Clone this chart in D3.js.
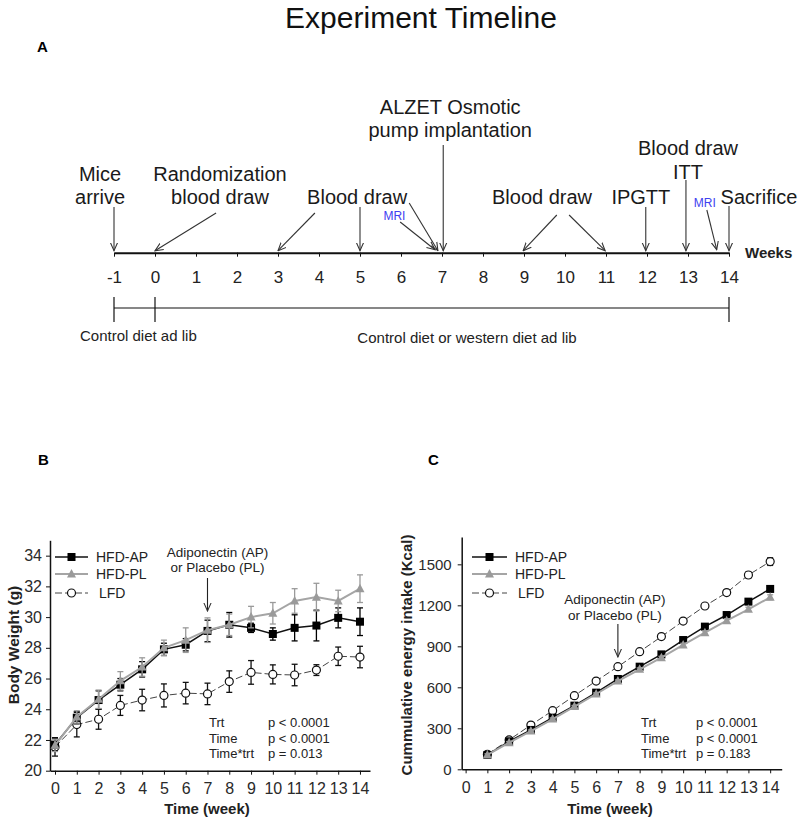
<!DOCTYPE html>
<html><head><meta charset="utf-8">
<script src="https://cdn.jsdelivr.net/npm/d3@7"></script>
<style>body{margin:0;background:#fff}svg{display:block}text{font-family:"Liberation Sans",Arial,sans-serif}</style>
</head><body>
<svg id="c" width="800" height="829"></svg>
<script>
// ---------- DATA ----------
const timelineWeeks = d3.range(-1, 15);
const weeks = d3.range(0, 15);
const weeksC = d3.range(1, 15);

const bwAP   = [21.7,23.45,24.6,25.6,26.6,27.9,28.2,29.1,29.5,29.3,28.9,29.3,29.45,29.95,29.7];
const bwAPe  = [0.4,0.4,0.6,0.4,0.5,0.4,0.4,0.7,0.8,0.3,0.4,0.85,1.0,0.65,0.9];
const bwPL   = [21.65,23.5,24.65,25.85,26.75,28.0,28.5,29.15,29.5,30.0,30.25,31.05,31.3,31.05,31.85];
const bwPLe  = [0.4,0.4,0.6,0.6,0.6,0.5,0.8,0.8,0.7,0.7,0.7,0.8,0.9,0.7,0.9];
const bwLFD  = [21.55,23.0,23.35,24.25,24.6,24.9,25.05,25.0,25.8,26.4,26.27,26.23,26.55,27.45,27.4];
const bwLFDe = [0.6,0.8,0.65,0.65,0.7,0.75,0.7,0.7,0.7,0.77,0.62,0.7,0.35,0.6,0.7];

const eiAP  = [105,205,288,378,466,561,661,751,841,946,1044,1129,1227,1320];
const eiAPe = [8,8,8,8,8,8,8,10,10,12,12,14,15,18];
const eiPL  = [105,195,280,368,459,551,646,732,817,910,1000,1088,1171,1259];
const eiPLe = [8,8,8,8,8,8,8,10,10,12,12,14,15,18];
const eiLFD = [110,215,324,429,539,646,751,861,971,1085,1195,1293,1422,1520];
const eiLFDe= [8,8,10,10,10,12,12,14,14,16,16,18,22,28];

const bTicksY = [20,22,24,26,28,30,32,34];
const cTicksY = [0,300,600,900,1200,1500];
const seriesNames = ["HFD-AP","HFD-PL","LFD"];
const statsLabels = ["Trt","Time","Time*trt"];
const statsB = ["p < 0.0001","p < 0.0001","p = 0.013"];
const statsC = ["p < 0.0001","p < 0.0001","p = 0.183"];

// timeline events: text lines, text anchor week, text y, arrows [fromWeek, fromY, toWeek]
const events = [
  {lines:["Mice","arrive"], w:-1.34, y:[174,197], arrows:[[-1,207,-1]]},
  {lines:["Randomization","blood draw"], w:1.585, y:[174,197], arrows:[[1.49,213,0]]},
  {lines:["Blood draw"], w:4.93, y:[197], arrows:[[3.9,213,3],[5,207,5],[6.2,203,6.9]]},
  {lines:["ALZET Osmotic","pump implantation"], w:7.2, y:[107,130], arrows:[[7.03,145,7.03]]},
  {lines:["Blood draw"], w:9.44, y:[197], arrows:[[9.8,215,8.98],[10.1,215,10.98]]},
  {lines:["IPGTT"], w:11.85, y:[197], arrows:[[11.97,207,11.97]]},
  {lines:["Blood draw","ITT"], w:13.0, y:[148,172], arrows:[[12.95,180,12.95]]},
  {lines:["Sacrifice"], w:14.73, y:[197], arrows:[[14,206,14]]}
];
const mriEvents = [
  {w:5.84, y:216, arrow:[5.98,222,6.83]},
  {w:13.41, y:203, arrow:[13.46,210,13.7]}
];

// ---------- DRAW ----------
const svg = d3.select("#c");
const fmt = d => String(d);
const defs = svg.append("defs");
defs.append("marker").attr("id","ah").attr("viewBox","0 0 10 10")
  .attr("refX",9).attr("refY",5).attr("markerWidth",9).attr("markerHeight",9)
  .attr("markerUnits","userSpaceOnUse").attr("orient","auto")
  .append("path").attr("d","M0,1 L9,5 L0,9").attr("fill","none").attr("stroke","#333").attr("stroke-width",1.2);

svg.append("text").attr("x",421).attr("y",28).attr("text-anchor","middle")
  .attr("font-size",30).attr("fill","#111").text("Experiment Timeline");
svg.append("text").attr("x",37).attr("y",52).attr("font-size",15).attr("font-weight","bold").text("A");

// timeline
const xT = d3.scaleLinear().domain([-1,14]).range([114,729]);
const axisY = 252.7;
const gT = svg.append("g").attr("transform",`translate(0,${axisY})`)
  .call(d3.axisBottom(xT).tickValues(timelineWeeks).tickFormat(fmt).tickSize(4).tickPadding(14).tickSizeOuter(0));
gT.select(".domain").attr("stroke","#111").attr("stroke-width",2);
gT.selectAll(".tick line").attr("stroke","#111");
gT.selectAll(".tick text").attr("font-size",17).attr("fill","#222").attr("font-family","Liberation Sans, Arial");
svg.append("text").attr("x",745).attr("y",axisY+5).attr("font-size",15).attr("font-weight","bold").attr("fill","#222").text("Weeks");

events.forEach(ev=>{
  ev.lines.forEach((l,i)=>{
    svg.append("text").attr("x",xT(ev.w)).attr("y",ev.y[i]+7).attr("text-anchor","middle")
      .attr("font-size",20).attr("fill","#1a1a1a").text(l);
  });
  ev.arrows.forEach(a=>{
    svg.append("line").attr("x1",xT(a[0])).attr("y1",a[1]).attr("x2",xT(a[2])).attr("y2",axisY-2)
      .attr("stroke","#333").attr("stroke-width",1.1).attr("marker-end","url(#ah)");
  });
});
mriEvents.forEach(m=>{
  svg.append("text").attr("x",xT(m.w)).attr("y",m.y+4).attr("text-anchor","middle")
    .attr("font-size",12).attr("fill","#4040f0").text("MRI");
  svg.append("line").attr("x1",xT(m.arrow[0])).attr("y1",m.arrow[1]).attr("x2",xT(m.arrow[2])).attr("y2",axisY-3)
    .attr("stroke","#333").attr("stroke-width",1.1).attr("marker-end","url(#ah)");
});

// diet bracket
const by = 308;
svg.append("line").attr("x1",xT(-1)).attr("x2",xT(14)).attr("y1",by).attr("y2",by).attr("stroke","#111").attr("stroke-width",1.2);
[-1,0,14].forEach(w=>svg.append("line").attr("x1",xT(w)).attr("x2",xT(w)).attr("y1",297).attr("y2",322).attr("stroke","#111").attr("stroke-width",1.2));
svg.append("text").attr("x",80).attr("y",341).attr("font-size",15).attr("fill","#222").text("Control diet ad lib");
svg.append("text").attr("x",467).attr("y",343).attr("text-anchor","middle").attr("font-size",15).attr("fill","#222").text("Control diet or western diet ad lib");

// panel labels
svg.append("text").attr("x",38).attr("y",465).attr("font-size",15).attr("font-weight","bold").text("B");
svg.append("text").attr("x",428).attr("y",465).attr("font-size",15).attr("font-weight","bold").text("C");

function panel(opt){
  const g = svg.append("g");
  const x = opt.x, y = opt.y;
  const ax = g.append("g").attr("transform",`translate(0,${y.range()[0]})`)
    .call(d3.axisBottom(x).tickValues(d3.range(0,15)).tickFormat(fmt).tickSize(4).tickPadding(opt.xpad).tickSizeOuter(0));
  const ay = g.append("g").attr("transform",`translate(${x.range()[0]},0)`)
    .call(d3.axisLeft(y).tickValues(opt.yticks).tickFormat(fmt).tickSize(4).tickPadding(opt.ypad).tickSizeOuter(0));
  [ax,ay].forEach(a=>{
    a.select(".domain").attr("stroke","#111").attr("stroke-width",1.5);
    a.selectAll(".tick line").attr("stroke","#111");
    a.selectAll(".tick text").attr("font-size",opt.fs).attr("fill","#2a2a2a").attr("font-family","Liberation Sans, Arial");
  });
  ay.selectAll(".tick text").attr("font-size",opt.yfs);
  g.append("text").attr("x",opt.xlab[0]).attr("y",opt.xlab[1]).attr("text-anchor","middle")
    .attr("font-size",15).attr("font-weight","bold").attr("fill","#222").text("Time (week)");
  g.append("text").attr("transform",`translate(${opt.ylab[0]},${opt.ylab[1]}) rotate(-90)`)
    .attr("text-anchor","middle").attr("font-size",opt.ylabfs).attr("font-weight","bold").attr("fill","#222").text(opt.ylabText);

  const styles = [
    {col:"#000", lc:"#111", lw:1.5, dash:null, mk:"sq"},
    {col:"#9a9a9a", lc:"#a5a5a5", lw:2, dash:null, mk:"tri"},
    {col:"#111", lc:"#444", lw:1, dash:"7,3", mk:"circ"}
  ];
  const order = [2,0,1];
  order.forEach(si=>{
    const s = styles[si], vals = opt.series[si], errs = opt.errs[si], xs = opt.xs;
    const pts = xs.map((w,i)=>[w,vals[i],errs[i]]);
    pts.forEach(p=>{
      const x0 = x(p[0]), y1 = y(p[1]-p[2]), y2 = y(p[1]+p[2]);
      g.append("line").attr("x1",x0).attr("x2",x0).attr("y1",y1).attr("y2",y2).attr("stroke",s.col).attr("stroke-width",1.3);
      [y1,y2].forEach(yy=>g.append("line").attr("x1",x0-3).attr("x2",x0+3).attr("y1",yy).attr("y2",yy).attr("stroke",s.col).attr("stroke-width",1.3));
    });
    g.append("path").datum(pts).attr("fill","none").attr("stroke",s.lc).attr("stroke-width",s.lw)
      .attr("stroke-dasharray",s.dash).attr("d",d3.line().x(p=>x(p[0])).y(p=>y(p[1])));
    pts.forEach(p=>marker(g,s.mk,x(p[0]),y(p[1]),s.col));
  });

  opt.legendY.forEach((ly,i)=>{
    const s = styles[i];
    g.append("line").attr("x1",opt.legX[0]).attr("x2",opt.legX[1]).attr("y1",ly).attr("y2",ly)
      .attr("stroke",s.lc).attr("stroke-width",s.lw).attr("stroke-dasharray",s.dash);
    marker(g,s.mk,(opt.legX[0]+opt.legX[1])/2,ly,s.col);
    g.append("text").attr("x",opt.legX[1]+8+(i===2?3:0)).attr("y",ly+5).attr("font-size",14).attr("fill","#222").text(seriesNames[i]);
  });
  const ann = opt.ann;
  g.append("text").attr("x",x(7)+ann.dx).attr("y",ann.y[0]).attr("text-anchor","middle").attr("font-size",13.5).attr("fill","#222").text("Adiponectin (AP)");
  g.append("text").attr("x",x(7)+ann.dx).attr("y",ann.y[1]).attr("text-anchor","middle").attr("font-size",13.5).attr("fill","#222").text("or Placebo (PL)");
  g.append("line").attr("x1",x(7)).attr("x2",x(7)).attr("y1",ann.a[0]).attr("y2",ann.a[1]).attr("stroke","#222").attr("stroke-width",1.1).attr("marker-end","url(#ah)");
  statsLabels.forEach((t,i)=>{
    g.append("text").attr("x",opt.st[0]).attr("y",opt.st[2]+i*15.5).attr("font-size",13).attr("font-family","Lato, Open Sans, sans-serif").attr("fill","#222").text(t);
    g.append("text").attr("x",opt.st[1]).attr("y",opt.st[2]+i*15.5).attr("font-size",13).attr("font-family","Lato, Open Sans, sans-serif").attr("fill","#222").text(opt.stats[i]);
  });
}
function marker(g,type,cx,cy,col){
  if(type==="sq") g.append("rect").attr("x",cx-4).attr("y",cy-4).attr("width",8).attr("height",8).attr("fill",col);
  else if(type==="tri") g.append("path").attr("d",`M${cx},${cy-5} L${cx+4.5},${cy+3.5} L${cx-4.5},${cy+3.5}Z`).attr("fill",col);
  else g.append("circle").attr("cx",cx).attr("cy",cy).attr("r",4).attr("fill","#fff").attr("stroke",col).attr("stroke-width",1.2);
}

panel({
  x: d3.scaleLinear().domain([-0.23,14.46]).range([50,370]),
  y: d3.scaleLinear().domain([20,35]).range([770.7,540.3]),
  yticks: bTicksY, xs: weeks, fs:16, yfs:16, xpad:8, ypad:4,
  series:[bwAP,bwPL,bwLFD], errs:[bwAPe,bwPLe,bwLFDe],
  xlab:[207,814], ylab:[19,645], ylabfs:15.5, ylabText:"Body Weight (g)",
  legendY:[557,574,593], legX:[55,88],
  ann:{dx:10, y:[557,572], a:[578,611]},
  st:[209,268,727], stats:statsB
});
panel({
  x: d3.scaleLinear().domain([-0.18,14.53]).range([461.7,781.7]),
  y: d3.scaleLinear().domain([0,1700]).range([769.3,537]),
  yticks: cTicksY, xs: weeksC, fs:16, yfs:15, xpad:8, ypad:6,
  series:[eiAP,eiPL,eiLFD], errs:[eiAPe,eiPLe,eiLFDe],
  xlab:[610,814], ylab:[412,655], ylabfs:15, ylabText:"Cummulative energy intake (Kcal)",
  legendY:[557,574,593], legX:[472,507],
  ann:{dx:-3, y:[604,620], a:[624,657]},
  st:[641,696,727], stats:statsC
});
</script>
</body></html>
